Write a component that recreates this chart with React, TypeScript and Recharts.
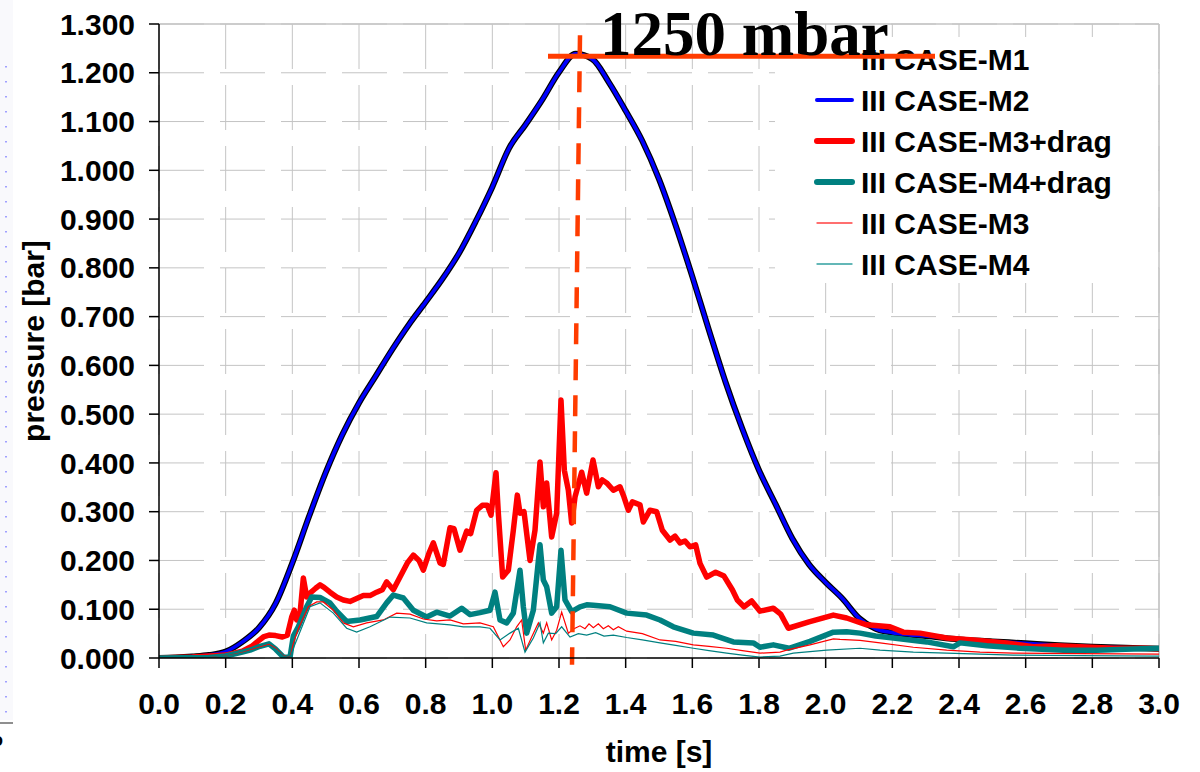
import React from 'react';
import { LineChart, Line, XAxis, YAxis, CartesianGrid, ReferenceLine, Customized } from 'recharts';

// ---------- data ----------
const xTicks = [0, 0.2, 0.4, 0.6, 0.8, 1.0, 1.2, 1.4, 1.6, 1.8, 2.0, 2.2, 2.4, 2.6, 2.8, 3.0];
const yTicks = [0, 0.1, 0.2, 0.3, 0.4, 0.5, 0.6, 0.7, 0.8, 0.9, 1.0, 1.1, 1.2, 1.3];

// III CASE-M1 / M2 (overlapping curves)
const m12Time = [0, 0.05, 0.1, 0.15, 0.2, 0.25, 0.3, 0.35, 0.4, 0.45, 0.5, 0.55, 0.6, 0.65, 0.7, 0.75, 0.8, 0.85, 0.9, 0.95, 1.0, 1.05, 1.1, 1.15, 1.2, 1.25, 1.3, 1.35, 1.4, 1.45, 1.5, 1.55, 1.6, 1.65, 1.7, 1.75, 1.8, 1.85, 1.9, 1.95, 2.0, 2.05, 2.1, 2.15, 2.2, 2.25, 2.3, 2.4, 2.5, 2.6, 2.7, 2.8, 2.9, 3.0];
const m1Pressure = [0, 0.001, 0.003, 0.006, 0.013, 0.033, 0.062, 0.112, 0.195, 0.29, 0.38, 0.458, 0.523, 0.578, 0.633, 0.684, 0.73, 0.777, 0.83, 0.895, 0.966, 1.045, 1.094, 1.145, 1.201, 1.239, 1.228, 1.18, 1.122, 1.06, 0.982, 0.887, 0.782, 0.672, 0.565, 0.47, 0.385, 0.315, 0.245, 0.192, 0.155, 0.122, 0.082, 0.06, 0.052, 0.048, 0.045, 0.038, 0.034, 0.03, 0.026, 0.023, 0.021, 0.019];
const m2Pressure = [0, 0.001, 0.003, 0.006, 0.013, 0.033, 0.062, 0.112, 0.195, 0.29, 0.38, 0.458, 0.523, 0.578, 0.633, 0.684, 0.73, 0.777, 0.83, 0.895, 0.966, 1.045, 1.094, 1.145, 1.201, 1.239, 1.228, 1.18, 1.122, 1.06, 0.982, 0.887, 0.782, 0.672, 0.565, 0.47, 0.385, 0.315, 0.245, 0.192, 0.155, 0.122, 0.082, 0.06, 0.052, 0.048, 0.045, 0.038, 0.034, 0.03, 0.026, 0.023, 0.021, 0.019];

// III CASE-M3+drag
const m3dTime = [0, 0.1, 0.2, 0.25, 0.28, 0.3, 0.315, 0.33, 0.35, 0.37, 0.385, 0.398, 0.406, 0.413, 0.423, 0.433, 0.443, 0.453, 0.47, 0.483, 0.495, 0.513, 0.533, 0.553, 0.573, 0.593, 0.613, 0.633, 0.653, 0.67, 0.683, 0.703, 0.723, 0.745, 0.763, 0.78, 0.793, 0.81, 0.823, 0.843, 0.853, 0.873, 0.885, 0.903, 0.923, 0.935, 0.953, 0.97, 0.985, 0.996, 1.011, 1.018, 1.031, 1.048, 1.063, 1.075, 1.083, 1.095, 1.113, 1.128, 1.143, 1.153, 1.163, 1.178, 1.193, 1.206, 1.216, 1.228, 1.238, 1.248, 1.268, 1.283, 1.302, 1.318, 1.33, 1.343, 1.363, 1.383, 1.395, 1.408, 1.42, 1.443, 1.453, 1.473, 1.493, 1.51, 1.533, 1.548, 1.563, 1.578, 1.593, 1.61, 1.623, 1.643, 1.67, 1.695, 1.72, 1.735, 1.755, 1.778, 1.803, 1.843, 1.865, 1.888, 1.95, 2.023, 2.063, 2.123, 2.193, 2.233, 2.283, 2.363, 2.443, 2.543, 2.623, 2.693, 2.763, 2.863, 2.963, 3.0];
const m3dPressure = [0, 0.002, 0.006, 0.014, 0.025, 0.036, 0.044, 0.047, 0.046, 0.043, 0.047, 0.084, 0.098, 0.078, 0.09, 0.164, 0.125, 0.133, 0.143, 0.15, 0.145, 0.135, 0.125, 0.119, 0.116, 0.122, 0.128, 0.128, 0.135, 0.14, 0.156, 0.14, 0.166, 0.195, 0.211, 0.2, 0.18, 0.215, 0.236, 0.195, 0.192, 0.267, 0.265, 0.221, 0.26, 0.255, 0.303, 0.313, 0.313, 0.293, 0.38, 0.297, 0.166, 0.18, 0.262, 0.334, 0.297, 0.3, 0.2, 0.262, 0.402, 0.31, 0.359, 0.248, 0.297, 0.529, 0.385, 0.344, 0.277, 0.33, 0.381, 0.338, 0.406, 0.351, 0.365, 0.359, 0.344, 0.351, 0.33, 0.303, 0.32, 0.314, 0.279, 0.303, 0.3, 0.262, 0.242, 0.25, 0.236, 0.24, 0.228, 0.232, 0.194, 0.166, 0.176, 0.168, 0.14, 0.119, 0.105, 0.117, 0.096, 0.102, 0.09, 0.061, 0.074, 0.088, 0.082, 0.068, 0.064, 0.053, 0.051, 0.041, 0.037, 0.031, 0.023, 0.025, 0.023, 0.02, 0.02, 0.019];

// III CASE-M4+drag
const m4dTime = [0, 0.15, 0.2, 0.25, 0.273, 0.303, 0.33, 0.35, 0.373, 0.393, 0.403, 0.418, 0.443, 0.458, 0.483, 0.513, 0.533, 0.563, 0.603, 0.653, 0.683, 0.703, 0.733, 0.763, 0.803, 0.833, 0.873, 0.908, 0.933, 0.963, 0.993, 1.008, 1.023, 1.043, 1.063, 1.083, 1.093, 1.103, 1.123, 1.143, 1.153, 1.163, 1.178, 1.193, 1.206, 1.218, 1.238, 1.263, 1.283, 1.303, 1.353, 1.403, 1.463, 1.503, 1.543, 1.603, 1.663, 1.723, 1.783, 1.803, 1.843, 1.89, 1.953, 2.023, 2.063, 2.103, 2.15, 2.203, 2.303, 2.383, 2.403, 2.483, 2.583, 2.713, 2.813, 2.9, 3.0];
const m4dPressure = [0, 0.001, 0.004, 0.012, 0.016, 0.024, 0.029, 0.018, 0.002, 0.001, 0.045, 0.064, 0.105, 0.125, 0.124, 0.113, 0.096, 0.075, 0.078, 0.085, 0.113, 0.129, 0.123, 0.098, 0.084, 0.094, 0.086, 0.102, 0.089, 0.093, 0.098, 0.135, 0.078, 0.072, 0.092, 0.18, 0.105, 0.051, 0.098, 0.232, 0.16, 0.146, 0.092, 0.105, 0.221, 0.119, 0.095, 0.105, 0.109, 0.108, 0.105, 0.092, 0.088, 0.078, 0.064, 0.051, 0.047, 0.033, 0.031, 0.022, 0.027, 0.02, 0.034, 0.053, 0.054, 0.051, 0.045, 0.041, 0.033, 0.023, 0.031, 0.025, 0.02, 0.016, 0.016, 0.018, 0.02];

// III CASE-M3
const m3Time = [0, 0.15, 0.2, 0.25, 0.3, 0.33, 0.35, 0.373, 0.393, 0.403, 0.418, 0.448, 0.473, 0.493, 0.523, 0.553, 0.583, 0.623, 0.673, 0.713, 0.753, 0.793, 0.833, 0.873, 0.913, 0.963, 1.003, 1.033, 1.053, 1.073, 1.088, 1.1, 1.118, 1.138, 1.153, 1.163, 1.178, 1.193, 1.208, 1.228, 1.245, 1.263, 1.278, 1.29, 1.303, 1.318, 1.333, 1.348, 1.363, 1.378, 1.403, 1.45, 1.503, 1.55, 1.603, 1.65, 1.703, 1.75, 1.803, 1.863, 1.883, 1.953, 2.023, 2.043, 2.103, 2.163, 2.263, 2.363, 2.463, 2.563, 2.763, 3.0];
const m3Pressure = [0, 0.001, 0.004, 0.011, 0.022, 0.028, 0.02, 0.005, 0.001, 0.03, 0.06, 0.105, 0.115, 0.115, 0.098, 0.072, 0.064, 0.072, 0.078, 0.092, 0.09, 0.08, 0.076, 0.078, 0.07, 0.072, 0.064, 0.023, 0.037, 0.064, 0.078, 0.016, 0.043, 0.072, 0.051, 0.072, 0.037, 0.057, 0.094, 0.051, 0.06, 0.066, 0.06, 0.07, 0.062, 0.07, 0.06, 0.066, 0.058, 0.064, 0.055, 0.05, 0.037, 0.034, 0.027, 0.024, 0.02, 0.015, 0.01, 0.012, 0.016, 0.027, 0.039, 0.038, 0.036, 0.031, 0.022, 0.016, 0.012, 0.01, 0.009, 0.008];

// III CASE-M4
const m4Time = [0, 0.15, 0.2, 0.25, 0.3, 0.33, 0.35, 0.373, 0.393, 0.403, 0.418, 0.453, 0.483, 0.523, 0.563, 0.593, 0.633, 0.693, 0.753, 0.803, 0.873, 0.913, 0.963, 0.993, 1.023, 1.053, 1.078, 1.098, 1.123, 1.143, 1.153, 1.168, 1.19, 1.208, 1.233, 1.258, 1.283, 1.31, 1.335, 1.363, 1.403, 1.45, 1.503, 1.55, 1.603, 1.65, 1.703, 1.75, 1.803, 1.863, 1.903, 2.003, 2.103, 2.163, 2.263, 2.363, 2.463, 2.563, 2.763, 3.0];
const m4Pressure = [0, 0.001, 0.004, 0.01, 0.02, 0.026, 0.018, 0.004, 0.001, 0.02, 0.045, 0.105, 0.113, 0.092, 0.061, 0.053, 0.064, 0.084, 0.082, 0.072, 0.068, 0.064, 0.064, 0.061, 0.037, 0.051, 0.061, 0.012, 0.041, 0.072, 0.031, 0.051, 0.05, 0.064, 0.043, 0.05, 0.047, 0.052, 0.045, 0.047, 0.042, 0.037, 0.031, 0.026, 0.02, 0.015, 0.01, 0.006, 0.002, 0.004, 0.01, 0.016, 0.02, 0.016, 0.012, 0.01, 0.008, 0.006, 0.005, 0.004];

// annotation (peak marker)
const peakLabel = '1250 mbar';
const peakLevel = 1.234;
const peakLineStart = 1.167;
const peakLineEnd = 2.328;
const markerTop = { t: 1.263, p: 1.277 };
const markerBottom = { t: 1.239, p: -0.014 };

const seriesNames = ['III CASE-M1', 'III CASE-M2', 'III CASE-M3+drag', 'III CASE-M4+drag', 'III CASE-M3', 'III CASE-M4'];

// ---------- helpers ----------
const zip = (ts: number[], ps: number[]) => ts.map((t, i) => ({ t, p: ps[i] }));
const m1Data = zip(m12Time, m1Pressure);
const m2Data = zip(m12Time, m2Pressure);
const m3dData = zip(m3dTime, m3dPressure);
const m4dData = zip(m4dTime, m4dPressure);
const m3Data = zip(m3Time, m3Pressure);
const m4Data = zip(m4Time, m4Pressure);

const SANS = '"Liberation Sans", Arial, Helvetica, sans-serif';
const SERIF = '"Liberation Serif", "Times New Roman", serif';

const legendStyles = [
  { color: '#000000', width: 3, dy: -3 },
  { color: '#0000ff', width: 4, dy: 0 },
  { color: '#ff0000', width: 6, dy: 0 },
  { color: '#008080', width: 6, dy: 0 },
  { color: '#ff4040', width: 1.3, dy: 0 },
  { color: '#30a0a0', width: 1.3, dy: 0 },
];

function Overlay() {
  return (
    <g>
      <rect x={775} y={37} width={383} height={246} fill="#ffffff" />
      {seriesNames.map((name, i) => {
        const cy = 59 + i * 41;
        const st = legendStyles[i];
        return (
          <g key={name}>
            <line x1={817} x2={852} y1={cy + st.dy} y2={cy + st.dy} stroke={st.color} strokeWidth={st.width} strokeLinecap="round" />
            <text x={861} y={cy} dy="0.36em" fontFamily={SANS} fontWeight="bold" fontSize={30} fill="#000">
              {name}
            </text>
          </g>
        );
      })}
      <text
        x={33}
        y={341}
        transform="rotate(-90 33 341)"
        textAnchor="middle"
        dy="0.36em"
        fontFamily={SANS}
        fontWeight="bold"
        fontSize={30}
        fill="#000"
      >
        pressure [bar]
      </text>
      <text x={659} y={762} textAnchor="middle" fontFamily={SANS} fontWeight="bold" fontSize={30} fill="#000">
        time [s]
      </text>
    </g>
  );
}

const renderPeakLabel = (props: any) => {
  const vb = props && props.viewBox;
  if (!vb) return null;
  return (
    <text x={vb.x + 52} y={vb.y - 1} fontFamily={SERIF} fontWeight="bold" fontSize={63} fill="#000">
      {peakLabel}
    </text>
  );
};

export default function App() {
  return (
    <div style={{ position: 'absolute', left: 0, top: 0, width: 1200, height: 772, background: '#fff', overflow: 'hidden' }}>
      <svg width={16} height={772} style={{ position: 'absolute', left: 0, top: 0 }}>
        <rect x={0} y={0} width={13} height={720} fill="#f9f9fc" />
        <line x1={6} x2={6} y1={66} y2={718} stroke="#8a8aff" strokeWidth={1.6} strokeDasharray="1.5 13.5" />
        <line x1={0} x2={13} y1={723} y2={723} stroke="#444" strokeWidth={1.2} />
        <text x={-8} y={746} fontFamily={SANS} fontWeight="bold" fontSize={18} fill="#000">o</text>
      </svg>
      <div style={{ position: 'absolute', left: 0, top: 0 }}>
        <LineChart width={1200} height={772} margin={{ top: 24, right: 41, bottom: 0, left: 0 }}>
          <CartesianGrid stroke="#c4c4c4" strokeWidth={1} strokeDasharray="45 16" />
          <XAxis
            dataKey="t"
            type="number"
            domain={[0, 3]}
            ticks={xTicks}
            interval={0}
            allowDataOverflow
            height={114}
            tickFormatter={(v: number) => v.toFixed(1)}
            tick={{ fontSize: 30, fontWeight: 'bold', fontFamily: SANS, fill: '#000' }}
            tickSize={10}
            tickMargin={25}
            axisLine={{ stroke: '#000', strokeWidth: 1.5 }}
            tickLine={{ stroke: '#000', strokeWidth: 1.5 }}
          />
          <YAxis
            type="number"
            domain={[0, 1.3]}
            ticks={yTicks}
            interval={0}
            allowDataOverflow
            width={159}
            tickFormatter={(v: number) => v.toFixed(3)}
            tick={{ fontSize: 30, fontWeight: 'bold', fontFamily: SANS, fill: '#000' }}
            tickSize={10}
            tickMargin={14}
            axisLine={{ stroke: '#000', strokeWidth: 1.5 }}
            tickLine={{ stroke: '#000', strokeWidth: 1.5 }}
          />
          <ReferenceLine y={1.3} stroke="#c4c4c4" strokeWidth={1.5} />
          <ReferenceLine x={3} stroke="#c4c4c4" strokeWidth={1.5} />
          <Customized component={<Overlay />} />
          <Line data={m1Data} dataKey="p" name={seriesNames[0]} type="monotone" stroke="#000000" strokeWidth={6} dot={false} activeDot={false} isAnimationActive={false} />
          <Line data={m2Data} dataKey="p" name={seriesNames[1]} type="monotone" stroke="#0000ff" strokeWidth={3.6} dot={false} activeDot={false} isAnimationActive={false} />
          <Line data={m3dData} dataKey="p" name={seriesNames[2]} type="linear" stroke="#ff0000" strokeWidth={5.5} strokeLinejoin="round" dot={false} activeDot={false} isAnimationActive={false} />
          <Line data={m4dData} dataKey="p" name={seriesNames[3]} type="linear" stroke="#008080" strokeWidth={5.5} strokeLinejoin="round" dot={false} activeDot={false} isAnimationActive={false} />
          <Line data={m3Data} dataKey="p" name={seriesNames[4]} type="linear" stroke="#ff0000" strokeWidth={1.2} dot={false} activeDot={false} isAnimationActive={false} />
          <Line data={m4Data} dataKey="p" name={seriesNames[5]} type="linear" stroke="#008080" strokeWidth={1.2} dot={false} activeDot={false} isAnimationActive={false} />
          <ReferenceLine
            segment={[{ x: markerTop.t, y: markerTop.p }, { x: markerBottom.t, y: markerBottom.p }]}
            stroke="#ff3c00"
            strokeWidth={4.5}
            strokeDasharray="21 15"
            ifOverflow="visible"
          />
          <ReferenceLine
            segment={[{ x: peakLineStart, y: peakLevel }, { x: peakLineEnd, y: peakLevel }]}
            stroke="#ff3c00"
            strokeWidth={5}
            ifOverflow="visible"
            label={renderPeakLabel}
          />
        </LineChart>
      </div>
    </div>
  );
}
